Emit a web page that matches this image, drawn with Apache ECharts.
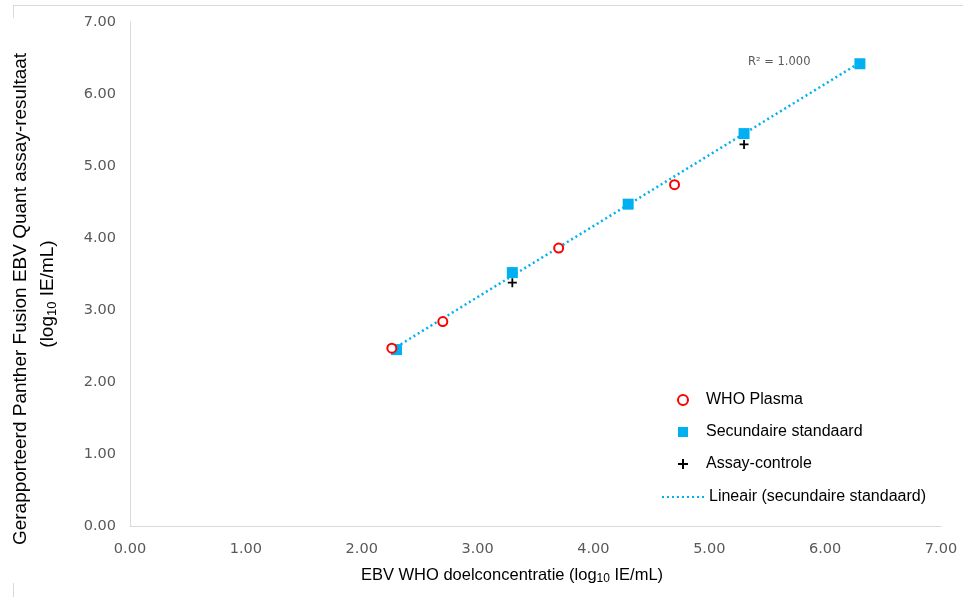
<!DOCTYPE html>
<html>
<head>
<meta charset="utf-8">
<script src="https://cdn.jsdelivr.net/npm/echarts@6/dist/echarts.min.js"></script>
<style>
html,body{margin:0;padding:0;background:#fff;}
#main{width:963px;height:597px;}
</style>
</head>
<body>
<div id="main"></div>
<script>
// WHO Plasma
var plasmaX = [2.26, 2.70, 3.70, 4.70];
var plasmaY = [2.47, 2.84, 3.86, 4.74];
// Secundaire standaard
var stdX = [2.30, 3.30, 4.30, 5.30, 6.30];
var stdY = [2.45, 3.52, 4.47, 5.45, 6.42];
// Assay-controle
var ctrlX = [3.30, 5.30];
var ctrlY = [3.38, 5.30];
var axisTicks = [0, 1, 2, 3, 4, 5, 6, 7];

function pairs(xs, ys) {
    var out = [];
    for (var i = 0; i < xs.length; i++) out.push([xs[i], ys[i]]);
    return out;
}

// lineaire trendlijn door de secundaire standaard
function fit(xs, ys) {
    var n = xs.length, sx = 0, sy = 0, sxx = 0, sxy = 0;
    for (var i = 0; i < n; i++) {
        sx += xs[i]; sy += ys[i]; sxx += xs[i] * xs[i]; sxy += xs[i] * ys[i];
    }
    var b = (n * sxy - sx * sy) / (n * sxx - sx * sx);
    var a = (sy - b * sx) / n;
    return [a, b];
}
var ab = fit(stdX, stdY);
var xMin = Math.min.apply(null, stdX), xMax = Math.max.apply(null, stdX);
var trend = [[xMin, ab[0] + ab[1] * xMin], [xMax, ab[0] + ab[1] * xMax]];

var plusIcon = 'path://M4,0H6V4H10V6H6V10H4V6H0V4H4Z';
var squareIcon = 'path://M0,0H10V10H0Z';
// stippellijn voor de legenda
var dotIcon = 'path://';
for (var k = 0; k < 9; k++) dotIcon += 'M' + (k * 5) + ',0h2v2h-2Z';
var blue = '#00B0F0';
var tickFont = {color: '#595959', fontSize: 14.5, fontFamily: 'DejaVu Sans'};
var fmt = function (v) { return v.toFixed(2); };

var myChart = echarts.init(document.getElementById('main'));
var option = {
    animation: false,
    grid: {left: 130, right: 22, top: 22, bottom: 71},
    xAxis: {
        type: 'value', min: axisTicks[0], max: axisTicks[axisTicks.length - 1], interval: 1,
        axisLine: {lineStyle: {color: '#d9d9d9', width: 1}},
        axisTick: {show: false},
        splitLine: {show: false},
        axisLabel: Object.assign({margin: 16, formatter: fmt}, tickFont)
    },
    yAxis: {
        type: 'value', min: axisTicks[0], max: axisTicks[axisTicks.length - 1], interval: 1,
        axisLine: {show: true, lineStyle: {color: '#d9d9d9', width: 1}},
        axisTick: {show: false},
        splitLine: {show: false},
        axisLabel: Object.assign({margin: 14, formatter: fmt}, tickFont)
    },
    legend: [
        {
            orient: 'vertical',
            left: 672, top: 387,
            itemWidth: 36, itemHeight: 10, itemGap: 16,
            textStyle: {fontFamily: 'Liberation Sans', fontSize: 16, lineHeight: 16, color: '#000'},
            data: [
                'WHO Plasma',
                {name: 'Secundaire standaard', icon: squareIcon},
                'Assay-controle'
            ]
        },
        {
            orient: 'vertical',
            left: 657, top: 484,
            itemWidth: 42, itemHeight: 14,
            textStyle: {fontFamily: 'Liberation Sans', fontSize: 16, color: '#000'},
            data: [{name: 'Lineair (secundaire standaard)', icon: dotIcon}]
        }
    ],
    graphic: [
        {type: 'line', shape: {x1: 13, y1: 5.5, x2: 963, y2: 5.5}, style: {stroke: '#d9d9d9', lineWidth: 1}},
        {type: 'line', shape: {x1: 13.5, y1: 5, x2: 13.5, y2: 18}, style: {stroke: '#d9d9d9', lineWidth: 1}},
        {type: 'line', shape: {x1: 13.5, y1: 583, x2: 13.5, y2: 597}, style: {stroke: '#d9d9d9', lineWidth: 1}},
        {
            type: 'text', x: 21, y: 299, rotation: Math.PI / 2,
            style: {
                text: 'Gerapporteerd Panther Fusion EBV Quant assay-resultaat',
                font: '19px "Liberation Sans"', fill: '#000',
                align: 'center', verticalAlign: 'middle'
            }
        },
        {
            type: 'text', x: 48, y: 294, rotation: Math.PI / 2,
            style: {
                text: '{n|(log}{s|10}{n| IE/mL)}',
                align: 'center', verticalAlign: 'middle',
                rich: {
                    n: {fontFamily: 'Liberation Sans', fontSize: 19, fill: '#000'},
                    s: {fontFamily: 'Liberation Sans', fontSize: 13, fill: '#000', padding: [9, 0, 0, 0]}
                }
            }
        },
        {
            type: 'text', x: 512, y: 575,
            style: {
                text: '{n|EBV WHO doelconcentratie (log}{s|10}{n| IE/mL)}',
                align: 'center', verticalAlign: 'middle',
                rich: {
                    n: {fontFamily: 'Liberation Sans', fontSize: 16.5, fill: '#000'},
                    s: {fontFamily: 'Liberation Sans', fontSize: 12, fill: '#000', padding: [8, 0, 0, 0]}
                }
            }
        },
        {
            type: 'text', x: 748, y: 62,
            style: {
                text: 'R² = 1.000', font: '11.5px "DejaVu Sans"', fill: '#595959',
                verticalAlign: 'middle'
            }
        }
    ],
    series: [
        {
            name: 'Lineair (secundaire standaard)',
            type: 'line',
            data: trend,
            symbol: 'none',
            lineStyle: {color: blue, width: 2.5, type: [2, 3]},
            itemStyle: {color: blue},
            z: 1
        },
        {
            name: 'WHO Plasma',
            type: 'scatter',
            data: pairs(plasmaX, plasmaY),
            symbol: 'circle',
            symbolSize: 9,
            itemStyle: {color: '#fff', borderColor: '#ff0000', borderWidth: 2, opacity: 1},
            z: 3
        },
        {
            name: 'Secundaire standaard',
            type: 'scatter',
            data: pairs(stdX, stdY),
            symbol: 'rect',
            symbolSize: 11,
            itemStyle: {color: blue, opacity: 1},
            z: 2
        },
        {
            name: 'Assay-controle',
            type: 'scatter',
            data: pairs(ctrlX, ctrlY),
            symbol: plusIcon,
            symbolSize: 9,
            itemStyle: {color: '#000', opacity: 1},
            z: 4
        }
    ]
};
myChart.setOption(option);
</script>
</body>
</html>
